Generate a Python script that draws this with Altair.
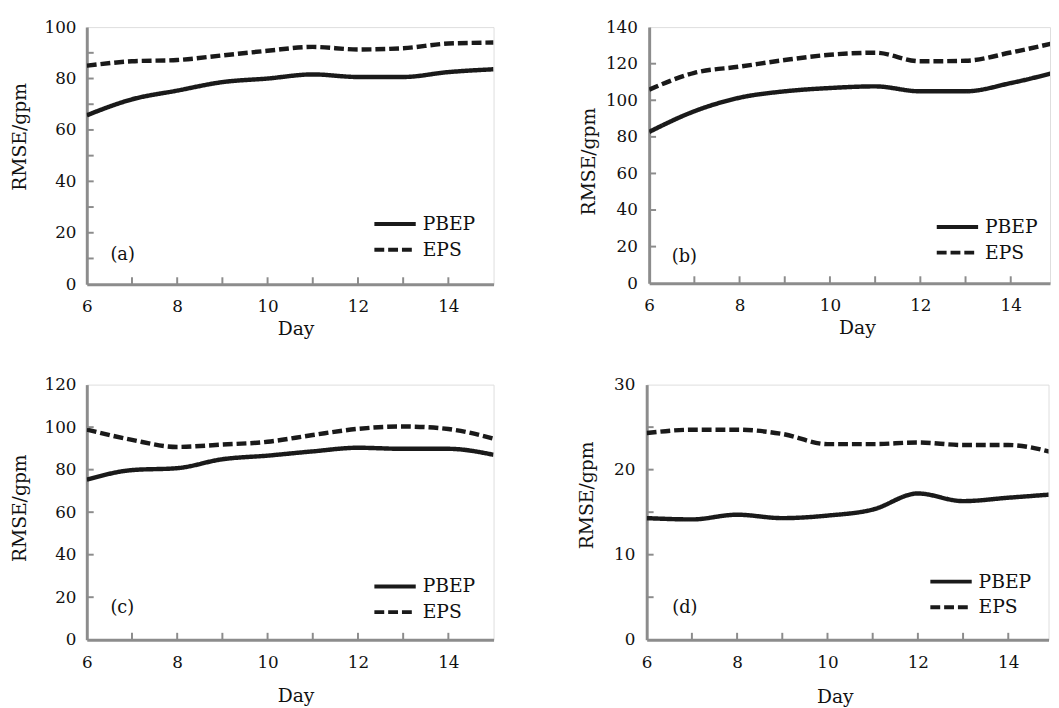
import altair as alt
import pandas as pd

days = [6, 7, 8, 9, 10, 11, 12, 13, 14, 15]

a_pbep = [65.7, 71.9, 75.3, 78.6, 80.0, 81.6, 80.6, 80.6, 82.5, 83.6]
a_eps = [85.0, 86.7, 87.2, 89.0, 90.8, 92.3, 91.3, 91.8, 93.6, 94.0]
b_pbep = [82.7, 94.0, 101.4, 104.9, 106.7, 107.6, 104.9, 104.9, 109.4, 115.3]
b_eps = [105.8, 115.0, 118.4, 122.0, 124.9, 126.0, 121.3, 121.6, 126.1, 131.5]
c_pbep = [75.3, 79.8, 80.7, 84.9, 86.6, 88.6, 90.3, 89.8, 89.8, 87.0]
c_eps = [98.9, 94.0, 90.7, 91.8, 93.1, 96.3, 99.2, 100.3, 99.1, 94.6]
d_pbep = [14.3, 14.15, 14.7, 14.3, 14.6, 15.3, 17.2, 16.3, 16.7, 17.1]
d_eps = [24.3, 24.7, 24.7, 24.2, 23.0, 23.0, 23.2, 22.9, 22.9, 22.0]

series_names = ["PBEP", "EPS"]
x_labels = [6, 8, 10, 12, 14]
x_ticks = [7, 8, 9, 10, 11, 12, 13, 14]

FONT = "DejaVu Serif"
LINE = "#1a1a1a"
GRAY = "#8c8c8c"


def panel(pbep, eps, ymax, ylab_step, ytick_step, W, H, xmax,
          ytitle, xtitle, tag, tag_xy, leg_xy, ylabpad):
    df = pd.DataFrame({
        "day": days * 2,
        "value": pbep + eps,
        "series": ["PBEP"] * len(days) + ["EPS"] * len(days),
    })
    xscale = alt.Scale(domain=[6, xmax], nice=False, zero=False)
    yscale = alt.Scale(domain=[0, ymax], nice=False)
    yvals = list(range(0, ymax + 1, ylab_step))
    xaxis = alt.Axis(
        values=x_labels, tickCount=len(x_labels), ticks=False, tickSize=0,
        grid=False, domainColor=GRAY, domainWidth=3, labelFlush=False,
        labelOverlap=False,
        labelFont=FONT, labelFontSize=17, labelColor="#111",
        labelPadding=15, title="Day", titleFont=FONT, titleFontSize=19,
        titleFontWeight="normal", titleColor="#111",
        titleX=xtitle[0], titleY=xtitle[1], titleBaseline="alphabetic",
        titleAlign="center")
    yaxis = alt.Axis(
        values=yvals, tickCount=len(yvals), ticks=False, tickSize=0,
        grid=False, domainColor=GRAY, domainWidth=3, labelOverlap=False,
        labelFont=FONT, labelFontSize=17, labelColor="#111",
        labelPadding=ylabpad, title="RMSE/gpm", titleFont=FONT,
        titleFontSize=19, titleFontWeight="normal", titleColor="#111",
        titleAngle=270, titleX=ytitle[0], titleY=ytitle[1],
        titleBaseline="middle", titleAlign="center")
    lines = alt.Chart(df).mark_line(
        color=LINE, strokeWidth=4.5, interpolate="monotone", clip=True
    ).encode(
        x=alt.X("day:Q", scale=xscale, axis=xaxis),
        y=alt.Y("value:Q", scale=yscale, axis=yaxis),
        strokeDash=alt.StrokeDash("series:N", scale=alt.Scale(
            domain=series_names, range=[[1, 0], [10, 4]]), legend=alt.Legend(
            orient="none", legendX=leg_xy[0] + 10.5, legendY=leg_xy[1] - 12.5,
            title=None, symbolType="M-2,0H2", symbolSize=441,
            symbolStrokeWidth=4, symbolStrokeColor=LINE, labelFont=FONT,
            labelFontSize=19, labelColor="#111", labelOffset=15.5, padding=0,
            rowPadding=3)),
    )
    ydf = pd.DataFrame({"value": list(range(ytick_step, ymax, ytick_step))})
    yt = alt.Chart(ydf).mark_rule(color=GRAY, strokeWidth=2).encode(
        y=alt.Y("value:Q", scale=yscale, axis=yaxis), x=alt.value(0), x2=alt.value(7))
    xdf = pd.DataFrame({"day": [d for d in x_ticks if d < xmax]})
    xt = alt.Chart(xdf).mark_rule(color=GRAY, strokeWidth=2).encode(
        x=alt.X("day:Q", scale=xscale, axis=xaxis), y=alt.value(H), y2=alt.value(H - 7))
    tdf = pd.DataFrame({"t": [tag]})
    tg = alt.Chart(tdf).mark_text(
        align="left", baseline="middle", font=FONT, fontSize=18, color="#111"
    ).encode(text="t:N", x=alt.value(tag_xy[0]), y=alt.value(tag_xy[1]))
    return alt.layer(lines, yt, xt, tg).properties(width=W, height=H)


pa = panel(a_pbep, a_eps, 100, 20, 10, 413, 261, 15,
           (-68.5, 111), (212, 51), "(a)", (24, 231), (290, 200), 11)
pb = panel(b_pbep, b_eps, 140, 20, 20, 407, 260, 6 + 9 * 407 / 413,
           (-62, 136), (211, 51), "(b)", (23, 233), (290, 203), 12)
pc = panel(c_pbep, c_eps, 120, 20, 20, 413, 259, 15,
           (-68.5, 125), (212, 63), "(c)", (24, 227), (290, 205), 11)
pd_ = panel(d_pbep, d_eps, 30, 10, 5, 408, 259, 6 + 9 * 408 / 413,
            (-61, 112), (191, 64), "(d)", (26, 227), (286, 200), 12)

top = alt.hconcat(pa, pb, spacing=85).resolve_legend(strokeDash="independent")
bottom = alt.hconcat(pc, pd_, spacing=83.5).resolve_legend(strokeDash="independent")

chart = alt.vconcat(top, bottom, spacing=36).resolve_legend(
    strokeDash="independent"
).properties(
    padding={"left": 2, "top": 4, "right": 0, "bottom": 0}
).configure_view(stroke="#555", strokeWidth=2).configure(background="white")

chart.save("out.html", embed_options={"renderer": "svg", "actions": False})
